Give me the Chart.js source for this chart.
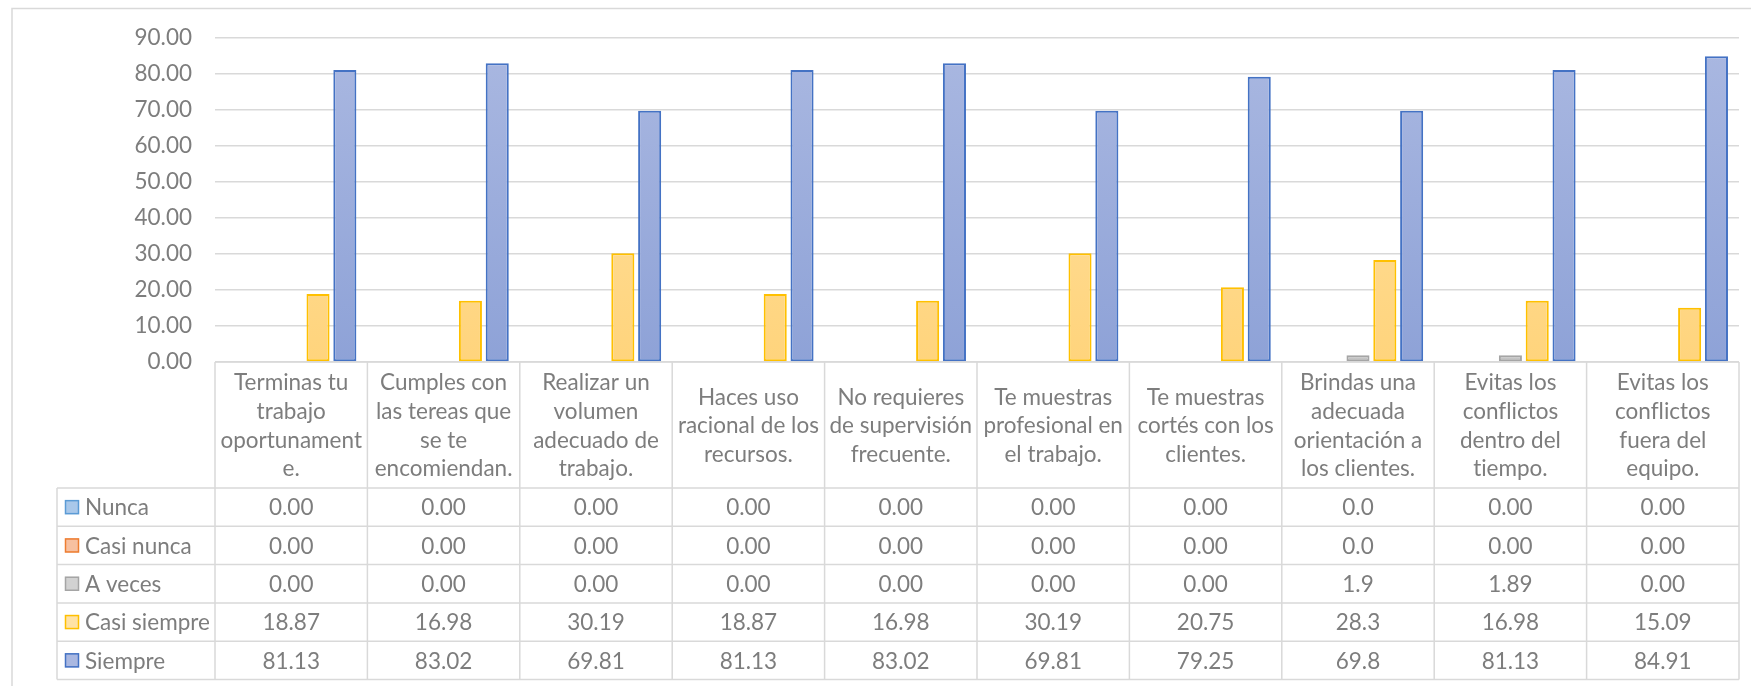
<!DOCTYPE html>
<html>
<head>
<meta charset="utf-8">
<script src="https://cdn.jsdelivr.net/npm/chart.js@4.4.1/dist/chart.umd.min.js"></script>
<style>
  html, body { margin: 0; padding: 0; background: #ffffff; }
  #wrap { width: 1751px; height: 686px; position: relative; }
</style>
</head>
<body>
<div id="wrap"><canvas id="c"></canvas></div>
<script>
// Category labels, pre-wrapped as they appear in the data table header
const categories = [
  ["Terminas tu", "trabajo", "oportunament", "e."],
  ["Cumples con", "las tereas que", "se te", "encomiendan."],
  ["Realizar un", "volumen", "adecuado de", "trabajo."],
  ["Haces uso", "racional de los", "recursos."],
  ["No requieres", "de supervisión", "frecuente."],
  ["Te muestras", "profesional en", "el trabajo."],
  ["Te muestras", "cortés con los", "clientes."],
  ["Brindas una", "adecuada", "orientación a", "los clientes."],
  ["Evitas los", "conflictos", "dentro del", "tiempo."],
  ["Evitas los", "conflictos", "fuera del", "equipo."]
];

const seriesNames = ["Nunca", "Casi nunca", "A veces", "Casi siempre", "Siempre"];

const nunca       = [0, 0, 0, 0, 0, 0, 0, 0.0, 0, 0];
const casiNunca   = [0, 0, 0, 0, 0, 0, 0, 0.0, 0, 0];
const aVeces      = [0, 0, 0, 0, 0, 0, 0, 1.9, 1.89, 0];
const casiSiempre = [18.87, 16.98, 30.19, 18.87, 16.98, 30.19, 20.75, 28.3, 16.98, 15.09];
const siempre     = [81.13, 83.02, 69.81, 81.13, 83.02, 69.81, 79.25, 69.8, 81.13, 84.91];

// Decimal places shown in each table column
const decimals = [2, 2, 2, 2, 2, 2, 2, 1, 2, 2];

// Value axis
const yMin = 0;
const yMax = 90;
const yStep = 10;

const FONT_FAMILY = "Lato, 'Open Sans', sans-serif";
const FONT_SIZE = 22.5;
const TEXT_COLOR = "#7d7d7d";
const LINE_COLOR = "#d9d9d9";

// Fill gradient (top, bottom) and outline per series
const styles = [
  { top: "#a9c8ea", bottom: "#8db6e3", border: "#5b9bd5" },
  { top: "#f7c0a0", bottom: "#f3a77d", border: "#ed7d31" },
  { top: "#d2d2d2", bottom: "#c3c3c3", border: "#a5a5a5" },
  { top: "#ffe2a6", bottom: "#ffd47c", border: "#ffc000" },
  { top: "#aab8e1", bottom: "#8ea2d7", border: "#4472c4" }
];

const seriesData = [nunca, casiNunca, aVeces, casiSiempre, siempre];

function gradientFor(i) {
  return (ctx) => {
    const area = ctx.chart.chartArea;
    if (!area) return styles[i].bottom;
    const g = ctx.chart.ctx.createLinearGradient(0, area.top, 0, area.bottom);
    g.addColorStop(0, styles[i].top);
    g.addColorStop(1, styles[i].bottom);
    return g;
  };
}

const PLOT_LEFT = 215;
const HEADER_H = 126;
const ROW_H = 38.3;
const LEGEND_LEFT = 57;

// Draws the outer frame of the chart
const framePlugin = {
  id: "frame",
  beforeDraw(chart) {
    const c = chart.ctx;
    c.save();
    c.fillStyle = "#ffffff";
    c.fillRect(0, 0, chart.width, chart.height);
    c.strokeStyle = LINE_COLOR;
    c.lineWidth = 1.5;
    c.beginPath();
    c.moveTo(12, chart.height + 2);
    c.lineTo(12, 8.5);
    c.lineTo(chart.width + 2, 8.5);
    c.stroke();
    c.restore();
  }
};

// Draws the data table below the plot: category header, legend keys and values
const tablePlugin = {
  id: "dataTable",
  afterDraw(chart) {
    const c = chart.ctx;
    const area = chart.chartArea;
    const n = categories.length;
    const colW = (area.right - area.left) / n;
    const top = area.bottom;
    const headBottom = top + HEADER_H;
    const bottom = headBottom + ROW_H * seriesNames.length;

    c.save();
    c.strokeStyle = LINE_COLOR;
    c.lineWidth = 1.5;
    c.beginPath();
    c.moveTo(area.left, top);
    c.lineTo(area.right, top);
    for (let r = 0; r <= seriesNames.length; r++) {
      const y = headBottom + r * ROW_H;
      c.moveTo(LEGEND_LEFT, y);
      c.lineTo(area.right, y);
    }
    for (let i = 0; i <= n; i++) {
      const x = area.left + i * colW;
      c.moveTo(x, top);
      c.lineTo(x, bottom);
    }
    c.moveTo(LEGEND_LEFT, headBottom);
    c.lineTo(LEGEND_LEFT, bottom);
    c.stroke();

    if ("textRendering" in c) c.textRendering = "optimizeSpeed";
    c.fillStyle = TEXT_COLOR;
    c.font = FONT_SIZE + "px " + FONT_FAMILY;
    c.textAlign = "center";
    c.textBaseline = "middle";

    const lineH = 28.6;
    for (let i = 0; i < n; i++) {
      const cx = chart.scales.x.getPixelForValue(i);
      const lines = categories[i];
      const y0 = (top + headBottom) / 2 - (lines.length - 1) * lineH / 2;
      lines.forEach((t, k) => c.fillText(t, cx, y0 + k * lineH + 1));
      for (let s = 0; s < seriesNames.length; s++) {
        const cy = headBottom + (s + 0.5) * ROW_H + 1;
        c.fillText(seriesData[s][i].toFixed(decimals[i]), cx, cy);
      }
    }

    c.textAlign = "left";
    for (let s = 0; s < seriesNames.length; s++) {
      const cy = headBottom + (s + 0.5) * ROW_H;
      const st = styles[s];
      c.fillStyle = st.top;
      c.fillRect(65, cy - 7, 14, 14);
      c.strokeStyle = st.border;
      c.lineWidth = 1.5;
      c.strokeRect(65.5, cy - 6.5, 13, 13);
      c.fillStyle = TEXT_COLOR;
      c.fillText(seriesNames[s], 85, cy + 1);
    }
    c.restore();
  }
};

const labels = categories.map(l => l.join(" "));

new Chart(document.getElementById("c"), {
  type: "bar",
  data: {
    labels: labels,
    datasets: seriesNames.map((name, i) => ({
      label: name,
      data: seriesData[i],
      backgroundColor: gradientFor(i),
      borderColor: styles[i].border,
      borderWidth: 2,
      borderSkipped: false,
      categoryPercentage: 0.88,
      barPercentage: 0.86
    }))
  },
  options: {
    responsive: true,
    maintainAspectRatio: false,
    animation: false,
    devicePixelRatio: 1,
    layout: { padding: { left: 0, right: 12, top: 38, bottom: 324 } },
    plugins: {
      legend: { display: false },
      tooltip: { enabled: false }
    },
    scales: {
      x: { display: false },
      y: {
        min: yMin,
        max: yMax,
        border: { display: false },
        grid: { color: LINE_COLOR, lineWidth: 1.5, drawTicks: false },
        ticks: {
          stepSize: yStep,
          padding: 23,
          color: TEXT_COLOR,
          font: { family: FONT_FAMILY, size: FONT_SIZE },
          callback: (v) => Number(v).toFixed(2)
        },
        afterFit(scale) { scale.width = PLOT_LEFT; }
      }
    }
  },
  plugins: [framePlugin, tablePlugin]
});
</script>
</body>
</html>
